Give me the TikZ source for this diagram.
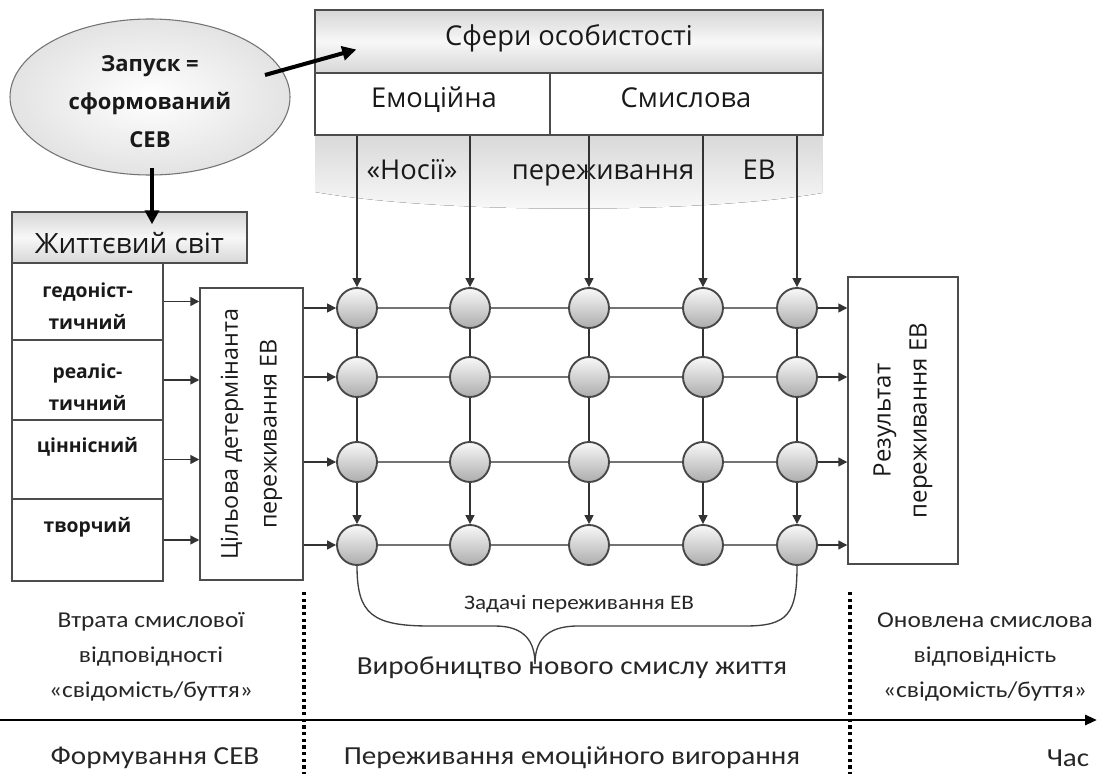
\documentclass[tikz,border=0pt]{standalone}
\usepackage{fontspec}
\setmainfont{Open Sans}
\newfontfamily\calfont[FakeStretch=1.12]{Carlito}
\usetikzlibrary{arrows.meta,shapes.geometric,calc}
\newcommand{\fsz}[2]{\fontsize{#1}{#2}\selectfont}
\begin{document}
\begin{tikzpicture}[x=0.75pt,y=-0.75pt,
 frame/.style={draw=black!70, line width=1.1pt, inner sep=0pt},
 graybox/.style={frame, top color=gray!32, bottom color=gray!32, middle color=gray!6},
 ball/.style={circle, draw=black!72, line width=1.4pt, minimum size=30pt, inner sep=0pt, top color=gray!5, bottom color=gray!65},
 hline/.style={draw=black!55, line width=1.4pt},
 vline/.style={draw=black!80, line width=1.1pt},
 tip/.style={-{Triangle[length=6.75pt,width=6.75pt]}},
 fat/.style={line width=3pt, -{Triangle[length=10.5pt,width=10.5pt]}},
 boxtext/.style={font=\fsz{20.5}{24}, text height=0.75em, text depth=0.22em, text=black!90},
 caltext/.style={font=\calfont\fsz{17}{26}, align=center, text=black!85},
 bigcal/.style={font=\calfont\fsz{19.5}{24}, text=black!85}
]
\useasboundingbox (0,0) rectangle (1098,774);

% banner
\fill[top color=gray!30, bottom color=gray!4] (315,135) -- (822,135) -- (822,193)
  .. controls (700,214) and (440,214) .. (315,192) -- cycle;

% top boxes
\node[graybox, minimum width=381pt, minimum height=47.25pt] (sf) at (569,41.5) {};
\node[boxtext] (sft) at (569,42) {Сфери особистості};
\node[frame, fill=white, minimum width=176.25pt, minimum height=46.5pt] (em) at (432.5,104) {};
\node[frame, fill=white, minimum width=204.75pt, minimum height=46.5pt] (sm) at (686.5,104) {};
\node[boxtext] (emt) at (434,104) {Емоційна};
\node[boxtext] (smt) at (686,104) {Смислова};

\node[boxtext] (n1) at (412,176) {«Носії»};
\node[boxtext] (n2) at (603,176) {переживання};
\node[boxtext] (n3) at (759,176) {ЕВ};

% ellipse
\node[ellipse, draw=black!55, line width=0.8pt, inner color=white, outer color=gray!22,
  minimum width=210pt, minimum height=117pt, inner sep=0pt] (ell) at (150,97) {};
\node[align=center, font=\bfseries\fsz{16.5}{28.5}, text=black!90] (elt) at (150,102) {Запуск =\\сформований\\СЕВ};

% life world
\node[graybox, minimum width=176.25pt, minimum height=38.25pt] (zh) at (129.5,237.5) {};
\node[font=\fsz{21}{24}, text=black!90, anchor=base, inner sep=0pt] (zht) at (129.5,253) {Життєвий світ};

\node[frame, fill=white, minimum width=113.25pt, minimum height=57.75pt] (r1) at (87.5,301.5) {};
\node[frame, fill=white, minimum width=113.25pt, minimum height=60pt] (r2) at (87.5,380) {};
\node[frame, fill=white, minimum width=113.25pt, minimum height=59.25pt] (r3) at (87.5,459.5) {};
\node[frame, fill=white, minimum width=113.25pt, minimum height=61.5pt] (r4) at (87.5,540) {};
\node[align=center, font=\bfseries\fsz{14.5}{24.5}, text=black!90] (t1) at (87.5,306) {гедоніст-\\тичний};
\node[align=center, font=\bfseries\fsz{14.5}{24.5}, text=black!90] (t2) at (87.5,387) {реаліс-\\тичний};
\node[font=\bfseries\fsz{14.5}{24}, text=black!90] (t3) at (87.5,447) {ціннісний};
\node[font=\bfseries\fsz{14.5}{24}, text=black!90] (t4) at (87.5,527) {творчий};

% determinant and result
\node[frame, fill=white, minimum width=77.25pt, minimum height=219pt] (det) at (251.5,434) {};
\node[rotate=90, align=center, font=\fsz{17.5}{29}, text=black!90] (dett) at (det.center) {Цільова детермінанта\\переживання ЕВ};
\node[frame, fill=white, minimum width=82.5pt, minimum height=215.25pt] (res) at (903,420.5) {};
\node[rotate=90, align=center, font=\fsz{18}{27}, text=black!90] (rest) at (res.center) {Результат\\переживання ЕВ};

% circles
\foreach \r/\y in {1/308,2/377,3/462,4/545}
  \foreach \c/\x in {1/357,2/470,3/589,4/703,5/797}
    \node[ball] (c\r\c) at (\x,\y) {};

% grid lines
\foreach \r in {1,2,3,4} {
  \foreach \c/\d in {1/2,2/3,3/4,4/5}
    \draw[hline] (c\r\c) -- (c\r\d);
  \draw[vline,tip] (det.east |- c\r1) -- (c\r1);
  \draw[vline,tip] (c\r5) -- (res.west |- c\r5);
}
\foreach \c in {1,2,3,4,5} {
  \draw[vline] (c1\c) -- (c2\c);
  \draw[vline] (c2\c) -- (c3\c);
  \draw[vline,tip] (c3\c) -- (c4\c);
}
\foreach \c in {1,2}
  \draw[vline,tip] (em.south -| c1\c) -- (c1\c);
\foreach \c in {3,4,5}
  \draw[vline,tip] (sm.south -| c1\c) -- (c1\c);
\foreach \r in {1,2,3,4}
  \draw[vline,tip] (r\r.east) -- (det.west |- r\r.east);

% thick arrows
\draw[fat] ($(ell.center)+(115,-22)$) -- ($(sf.west)+(42,8)$);
\draw[fat] ($(ell.south)+(2,-8)$) -- ($(zh.north)+(22.5,13)$);

% brace
\coordinate (btip) at (535,664);
\draw[black!75, line width=1pt] (c41.south) .. controls (357,614) and (372,626) .. (430,626)
  -- (495,626) .. controls (525,626) and (535,642) .. (btip);
\draw[black!75, line width=1pt] (btip) .. controls (535,642) and (545,626) .. (578,626)
  -- (745,626) .. controls (788,626) and (797,614) .. (c45.south);
\node[font=\calfont\fsz{15.5}{18}, text=black!85] (task) at (579,604) {Задачі переживання ЕВ};

% bottom texts
\node[caltext] (lt) at (151,657) {Втрата смислової\\відповідності\\«свідомість/буття»};
\node[caltext] (rt) at (985,657) {Оновлена смислова\\відповідність\\«свідомість/буття»};
\node[bigcal] (prod) at (572,668) {Виробництво нового смислу життя};

% time axis
\coordinate (ta) at (0,720);
\coordinate (tb) at (1097,720);
\draw[line width=2.2pt, -{Triangle[length=9pt,width=7.5pt]}] (ta) -- (tb);
\coordinate (d1a) at (304,592); \coordinate (d1b) at (304,774);
\coordinate (d2a) at (850,592); \coordinate (d2b) at (850,774);
\draw[line width=2.4pt, dash pattern=on 2.4pt off 2.6pt] (d1a) -- (d1b);
\draw[line width=2.4pt, dash pattern=on 2.4pt off 2.6pt] (d2a) -- (d2b);

\node[bigcal] (b1) at (155,758) {Формування СЕВ};
\node[bigcal] (b2) at (572,758) {Переживання емоційного вигорання};
\node[bigcal] (b3) at (1068,758) {Час};
\end{tikzpicture}
\end{document}
